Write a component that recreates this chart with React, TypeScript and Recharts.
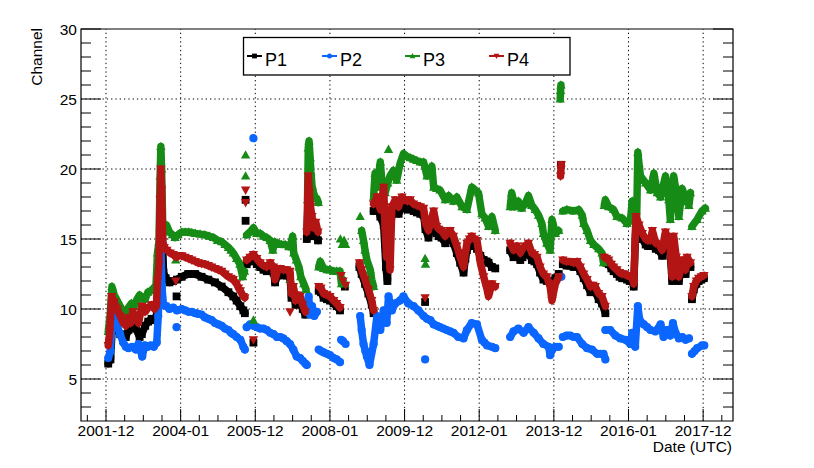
import { ScatterChart, Scatter, XAxis, YAxis, ReferenceLine, ReferenceArea } from 'recharts'

type Pt = [number, number]
type MarkerKind = 'square' | 'circle' | 'up' | 'down'

const CHART_W = 814
const CHART_H = 468
// the axes take 1px each, so the plot spans x 81..733 and y 29..421
const MARGIN = { top: 29, right: 81, bottom: 46, left: 80 }
const PLOT_W = 652
const FONT = '"Liberation Sans", Arial, Helvetica, sans-serif'

const X_DOMAIN: [number, number] = [2001.33, 2018.8]
const Y_DOMAIN: [number, number] = [2, 30]

const X_MAJOR = [2002, 2004, 2006, 2008, 2010, 2012, 2014, 2016, 2018]
const X_LABELS = ['2001-12', '2004-01', '2005-12', '2008-01', '2009-12', '2012-01', '2013-12', '2016-01', '2017-12']
const X_TICKS = [
  2001.5, 2002, 2002.5, 2003, 2003.5, 2004, 2004.5, 2005, 2005.5, 2006, 2006.5, 2007, 2007.5, 2008, 2008.5,
  2009, 2009.5, 2010, 2010.5, 2011, 2011.5, 2012, 2012.5, 2013, 2013.5, 2014, 2014.5, 2015, 2015.5, 2016,
  2016.5, 2017, 2017.5, 2018, 2018.5,
]
const Y_MAJOR = [5, 10, 15, 20, 25, 30]
const Y_TICKS = [3, 4, 5, 6, 7, 8, 9, 10, 11, 12, 13, 14, 15, 16, 17, 18, 19, 20, 21, 22, 23, 24, 25, 26, 27, 28, 29, 30]

// P1 — [year, channel]
const P1_SEGMENTS: Pt[][] = [
  [
    [2002.06, 6.1], [2002.12, 6.4], [2002.18, 9.2], [2002.24, 9.0], [2002.3, 8.6], [2002.38, 8.2], [2002.46, 7.8],
    [2002.53, 8.0], [2002.6, 8.5], [2002.7, 8.7], [2002.8, 8.6], [2002.9, 8.0], [2002.96, 8.2], [2003.05, 8.8],
    [2003.13, 9.1], [2003.22, 9.3], [2003.3, 9.2], [2003.36, 9.6], [2003.4, 11.5], [2003.44, 14.5], [2003.47, 17.3],
    [2003.5, 16.2], [2003.54, 12.6], [2003.6, 12.2], [2003.7, 11.9], [2003.8, 12.0], [2003.9, 12.1], [2004.03, 12.3],
    [2004.2, 12.5], [2004.39, 12.5], [2004.56, 12.3], [2004.74, 12.1], [2004.92, 11.9], [2005.1, 11.6], [2005.28, 11.2],
    [2005.41, 10.9], [2005.5, 10.6], [2005.6, 10.2], [2005.68, 9.9], [2005.72, 9.7],
  ],
  [
    [2005.77, 13.2], [2005.86, 13.4], [2005.95, 13.5], [2006.04, 13.2], [2006.13, 13.0], [2006.22, 12.8], [2006.31, 12.7],
    [2006.4, 12.9], [2006.49, 12.6], [2006.53, 11.9], [2006.6, 12.4], [2006.67, 12.5], [2006.76, 12.4], [2006.84, 12.4],
    [2006.93, 12.3], [2006.97, 10.8], [2007.02, 11.2], [2007.08, 10.3], [2007.14, 10.6], [2007.2, 10.5], [2007.27, 10.0],
    [2007.34, 9.6],
  ],
  [[2007.38, 15.0], [2007.43, 18.8], [2007.46, 17.0], [2007.5, 15.6], [2007.56, 15.2], [2007.62, 15.3], [2007.68, 14.9]],
  [[2007.7, 11.3], [2007.76, 11.2], [2007.83, 10.8], [2007.92, 10.7], [2008.0, 10.6], [2008.1, 10.4], [2008.18, 10.2], [2008.27, 9.9]],
  [[2008.79, 13.0], [2008.85, 12.5], [2008.94, 11.8], [2009.03, 11.1], [2009.12, 10.3], [2009.17, 9.7]],
  [
    [2009.17, 17.0], [2009.26, 17.5], [2009.35, 16.6], [2009.44, 16.0], [2009.5, 13.0], [2009.54, 12.0], [2009.58, 14.5],
    [2009.66, 16.8], [2009.75, 17.3], [2009.84, 16.8], [2009.93, 17.3], [2010.0, 17.2], [2010.08, 17.1], [2010.15, 17.2],
    [2010.24, 17.0], [2010.33, 16.9], [2010.42, 16.8], [2010.51, 16.7], [2010.56, 15.7], [2010.64, 15.1], [2010.7, 15.8],
    [2010.78, 16.5], [2010.86, 15.4], [2010.92, 15.2], [2010.99, 15.1], [2011.09, 14.7], [2011.15, 15.0], [2011.22, 15.1],
    [2011.31, 14.7], [2011.4, 14.0], [2011.49, 13.3], [2011.58, 12.6], [2011.63, 13.6], [2011.67, 14.2], [2011.74, 14.5],
    [2011.8, 14.7], [2011.87, 14.5], [2011.94, 14.3], [2012.03, 13.8], [2012.12, 13.5], [2012.2, 13.4], [2012.25, 13.3],
    [2012.34, 13.0], [2012.43, 12.9],
  ],
  [
    [2012.83, 14.2], [2012.92, 13.7], [2013.01, 13.9], [2013.1, 13.5], [2013.16, 13.7], [2013.23, 13.9], [2013.32, 14.0],
    [2013.41, 13.5], [2013.48, 13.4], [2013.55, 13.2], [2013.63, 12.6], [2013.72, 12.1], [2013.81, 12.0], [2013.9, 11.9],
    [2013.97, 12.0], [2014.04, 12.2], [2014.13, 12.5],
  ],
  [
    [2014.24, 13.2], [2014.34, 13.1], [2014.44, 13.1], [2014.53, 13.0], [2014.62, 13.1], [2014.71, 12.7], [2014.8, 12.2],
    [2014.89, 11.7], [2014.98, 11.2], [2015.05, 11.3], [2015.11, 11.2], [2015.2, 10.7], [2015.29, 10.4], [2015.38, 9.7],
  ],
  [
    [2015.35, 13.4], [2015.41, 13.3], [2015.47, 13.2], [2015.54, 12.9], [2015.6, 12.7], [2015.69, 12.5], [2015.76, 12.3],
    [2015.83, 12.2], [2015.9, 12.2], [2015.96, 12.1], [2016.03, 12.0], [2016.1, 12.0], [2016.14, 11.6], [2016.2, 16.3],
    [2016.28, 15.6], [2016.37, 15.0], [2016.46, 14.6], [2016.52, 14.5], [2016.59, 14.5], [2016.64, 15.2], [2016.73, 14.3],
    [2016.82, 14.2], [2016.9, 13.8], [2016.99, 15.1], [2017.08, 14.5], [2017.12, 13.8], [2017.17, 12.0], [2017.21, 14.8],
    [2017.28, 13.3], [2017.35, 12.0], [2017.44, 13.2], [2017.53, 12.5], [2017.57, 13.4], [2017.66, 13.0],
  ],
  [[2017.7, 10.7], [2017.75, 11.4], [2017.82, 11.8], [2017.88, 12.0], [2017.95, 12.1], [2018.02, 12.2]],
]
const P1_SINGLES: Pt[] = [
  [2003.89, 10.9], [2005.74, 17.8], [2005.74, 16.3], [2005.95, 7.6], [2008.32, 12.0], [2008.4, 11.6], [2010.55, 10.5],
  [2014.19, 20.3],
]

// P2
const P2_SEGMENTS: Pt[][] = [
  [
    [2002.06, 6.5], [2002.12, 7.0], [2002.17, 9.6], [2002.24, 9.2], [2002.3, 8.8], [2002.38, 8.2], [2002.46, 7.6],
    [2002.53, 7.3], [2002.6, 7.2], [2002.7, 7.3], [2002.8, 7.1], [2002.87, 7.5], [2002.97, 6.6], [2003.04, 7.4],
    [2003.12, 7.3], [2003.2, 7.4], [2003.28, 7.3], [2003.36, 7.6], [2003.4, 9.5], [2003.44, 12.0], [2003.47, 14.5],
    [2003.5, 11.5], [2003.54, 10.3], [2003.62, 10.2], [2003.7, 10.0], [2003.8, 10.1], [2003.9, 9.9], [2004.03, 10.0],
    [2004.12, 9.9], [2004.21, 9.8], [2004.3, 9.8], [2004.39, 9.7], [2004.47, 9.65], [2004.56, 9.6], [2004.65, 9.4],
    [2004.74, 9.3], [2004.83, 9.2], [2004.92, 9.0], [2005.01, 8.9], [2005.1, 8.8], [2005.19, 8.6], [2005.28, 8.5],
    [2005.35, 8.3], [2005.41, 8.2], [2005.5, 8.0], [2005.6, 7.8], [2005.68, 7.3], [2005.72, 7.1],
  ],
  [
    [2005.77, 8.7], [2005.86, 8.9], [2005.95, 8.8], [2006.04, 8.7], [2006.13, 8.6], [2006.22, 8.6], [2006.31, 8.5],
    [2006.4, 8.3], [2006.49, 8.2], [2006.58, 8.0], [2006.67, 8.0], [2006.75, 7.9], [2006.84, 7.7], [2006.93, 7.5],
    [2007.02, 7.1], [2007.11, 6.6], [2007.2, 6.5], [2007.27, 6.3], [2007.34, 6.1], [2007.38, 6.0],
  ],
  [[2007.38, 10.3], [2007.43, 10.9], [2007.47, 9.6], [2007.52, 10.2], [2007.58, 9.5], [2007.65, 9.8]],
  [[2007.7, 7.1], [2007.76, 7.0], [2007.83, 6.9], [2007.92, 6.8], [2008.0, 6.7], [2008.1, 6.5], [2008.18, 6.4], [2008.27, 6.2]],
  [
    [2008.81, 9.5], [2008.85, 8.5], [2008.9, 7.5], [2008.95, 7.0], [2008.99, 6.6], [2009.06, 6.0], [2009.17, 7.5],
    [2009.26, 9.5], [2009.35, 8.5], [2009.44, 9.9], [2009.52, 9.0], [2009.57, 10.9], [2009.66, 9.9], [2009.75, 10.4],
    [2009.88, 10.6], [2009.97, 10.9], [2010.1, 10.4], [2010.24, 10.2], [2010.37, 9.9], [2010.51, 9.5], [2010.6, 9.3],
    [2010.69, 9.2], [2010.78, 8.9], [2010.87, 8.8], [2010.95, 8.7], [2011.04, 8.6], [2011.13, 8.5], [2011.22, 8.4],
    [2011.31, 8.3], [2011.44, 8.0], [2011.58, 7.9], [2011.67, 8.5], [2011.8, 9.0], [2011.94, 8.9], [2012.07, 7.8],
    [2012.14, 7.6], [2012.21, 7.4], [2012.34, 7.3], [2012.43, 7.2],
  ],
  [
    [2012.83, 8.0], [2012.92, 8.4], [2013.05, 8.6], [2013.19, 8.3], [2013.32, 8.7], [2013.46, 8.3], [2013.59, 7.9],
    [2013.72, 7.5], [2013.86, 7.3], [2013.9, 6.7], [2013.96, 7.1], [2014.04, 7.3], [2014.13, 7.3],
  ],
  [
    [2014.24, 8.0], [2014.34, 8.1], [2014.44, 8.1], [2014.53, 8.0], [2014.62, 8.0], [2014.76, 7.5], [2014.89, 7.2],
    [2015.02, 7.1], [2015.16, 6.8], [2015.25, 6.8], [2015.33, 6.8], [2015.38, 6.4],
  ],
  [
    [2015.38, 8.5], [2015.51, 8.5], [2015.65, 8.1], [2015.78, 7.9], [2015.92, 7.8], [2016.05, 7.5], [2016.1, 8.3],
    [2016.18, 7.3], [2016.25, 10.2], [2016.3, 9.2], [2016.41, 8.9], [2016.5, 8.7], [2016.59, 8.5], [2016.72, 8.4],
    [2016.86, 8.9], [2016.94, 8.0], [2017.03, 8.5], [2017.12, 8.1], [2017.19, 9.0], [2017.26, 8.3], [2017.35, 7.9],
    [2017.44, 8.0], [2017.53, 7.8], [2017.62, 7.9],
  ],
  [[2017.7, 6.8], [2017.77, 7.0], [2017.84, 7.2], [2017.97, 7.4], [2018.03, 7.4]],
]
const P2_SINGLES: Pt[] = [
  [2003.89, 8.7], [2005.95, 22.2], [2008.3, 7.8], [2008.35, 7.7], [2008.42, 7.5], [2010.55, 6.4], [2014.2, 12.3],
]

// P3
const P3_SEGMENTS: Pt[][] = [
  [
    [2002.06, 8.4], [2002.11, 9.5], [2002.16, 11.6], [2002.22, 11.0], [2002.3, 10.6], [2002.38, 10.2], [2002.46, 9.8],
    [2002.53, 9.7], [2002.6, 10.1], [2002.68, 10.4], [2002.75, 10.2], [2002.83, 10.7], [2002.9, 11.0], [2002.98, 10.8],
    [2003.05, 10.7], [2003.12, 11.2], [2003.2, 11.3], [2003.28, 11.5], [2003.34, 11.7], [2003.38, 14.0], [2003.42, 14.8],
    [2003.45, 19.5], [2003.47, 21.6], [2003.49, 20.0], [2003.52, 16.0], [2003.56, 15.6], [2003.62, 16.0], [2003.7, 15.5],
    [2003.78, 15.3], [2003.85, 15.1], [2003.93, 15.3], [2004.03, 15.5], [2004.12, 15.5], [2004.21, 15.5], [2004.3, 15.45],
    [2004.39, 15.4], [2004.52, 15.35], [2004.65, 15.3], [2004.77, 15.2], [2004.88, 15.1], [2004.99, 14.9], [2005.1, 14.8],
    [2005.19, 14.6], [2005.28, 14.4], [2005.35, 14.2], [2005.41, 14.0], [2005.5, 13.6], [2005.59, 13.2], [2005.66, 12.3],
    [2005.71, 12.7],
  ],
  [
    [2005.77, 15.3], [2005.86, 15.5], [2005.95, 15.8], [2006.04, 15.4], [2006.13, 15.4], [2006.22, 15.2], [2006.31, 15.1],
    [2006.4, 14.9], [2006.47, 14.2], [2006.52, 14.8], [2006.6, 14.7], [2006.7, 14.6], [2006.8, 14.6], [2006.9, 14.45],
    [2006.97, 14.8], [2007.0, 15.2], [2007.03, 14.0], [2007.1, 13.5], [2007.17, 13.0], [2007.22, 12.3], [2007.3, 11.8],
    [2007.36, 11.4],
  ],
  [
    [2007.4, 17.8], [2007.42, 21.5], [2007.44, 22.0], [2007.47, 20.8], [2007.49, 19.8], [2007.52, 18.8], [2007.56, 18.3],
    [2007.6, 18.0], [2007.65, 17.9], [2007.69, 17.6],
  ],
  [[2007.7, 13.0], [2007.74, 13.4], [2007.83, 12.9], [2007.92, 12.8], [2008.0, 12.8], [2008.1, 12.7], [2008.18, 12.7], [2008.27, 12.7], [2008.31, 11.8]],
  [[2008.85, 15.6], [2008.9, 14.9], [2008.94, 14.2], [2008.99, 13.5], [2009.08, 12.8], [2009.12, 12.1], [2009.17, 11.6]],
  [
    [2009.17, 18.0], [2009.21, 19.7], [2009.26, 18.7], [2009.35, 20.5], [2009.39, 19.2], [2009.48, 18.3], [2009.55, 19.0],
    [2009.61, 19.5], [2009.7, 19.9], [2009.79, 19.2], [2009.88, 20.4], [2009.97, 21.1], [2010.06, 20.9], [2010.15, 20.8],
    [2010.24, 20.7], [2010.33, 20.6], [2010.42, 20.5], [2010.51, 20.5], [2010.6, 19.5], [2010.73, 20.2], [2010.78, 18.7],
    [2010.86, 18.6], [2010.95, 18.5], [2011.09, 17.8], [2011.18, 18.1], [2011.31, 17.7], [2011.4, 18.0], [2011.54, 17.3],
    [2011.67, 17.1], [2011.8, 18.7], [2011.89, 18.5], [2011.98, 18.3], [2012.07, 16.8], [2012.16, 16.5], [2012.25, 15.9],
    [2012.34, 16.6], [2012.43, 15.6],
  ],
  [
    [2012.83, 17.3], [2012.87, 18.3], [2012.96, 17.3], [2013.05, 17.7], [2013.14, 17.2], [2013.23, 17.5], [2013.32, 18.1],
    [2013.41, 17.4], [2013.5, 17.1], [2013.59, 16.7], [2013.68, 16.1], [2013.72, 15.4], [2013.81, 14.7], [2013.9, 14.2],
    [2013.95, 16.4], [2014.04, 15.4], [2014.13, 15.6],
  ],
  [[2014.17, 25.0], [2014.18, 25.6], [2014.19, 26.0]],
  [
    [2014.24, 17.0], [2014.35, 17.1], [2014.53, 17.0], [2014.67, 17.1], [2014.76, 16.7], [2014.8, 16.1], [2014.89, 15.6],
    [2014.98, 14.9], [2015.07, 14.6], [2015.2, 14.3], [2015.29, 14.0], [2015.33, 13.3], [2015.38, 13.7],
  ],
  [
    [2015.35, 17.4], [2015.38, 17.8], [2015.47, 17.3], [2015.6, 17.1], [2015.69, 16.6], [2015.83, 16.5], [2015.96, 16.1],
    [2016.05, 16.3], [2016.1, 17.7], [2016.18, 17.1], [2016.22, 16.6], [2016.25, 21.2], [2016.28, 20.4], [2016.32, 19.5],
    [2016.46, 19.0], [2016.59, 18.5], [2016.68, 19.7], [2016.77, 18.3], [2016.86, 18.0], [2016.99, 19.5], [2017.08, 17.8],
    [2017.12, 16.4], [2017.21, 19.5], [2017.3, 18.0], [2017.35, 16.6], [2017.44, 18.6], [2017.53, 17.8], [2017.62, 17.4],
    [2017.66, 18.3],
  ],
  [[2017.7, 15.9], [2017.84, 16.4], [2017.97, 17.0], [2018.06, 17.2]],
]
const P3_SINGLES: Pt[] = [
  [2003.87, 13.5], [2005.74, 21.0], [2005.74, 19.5], [2005.95, 9.2], [2006.93, 12.1], [2008.28, 15.0], [2008.33, 14.6],
  [2008.38, 14.9], [2008.42, 14.6], [2008.35, 12.2], [2008.4, 11.8], [2008.81, 16.6], [2009.57, 21.4], [2010.55, 13.6],
  [2010.56, 13.2],
]

// P4
const P4_SEGMENTS: Pt[][] = [
  [
    [2002.06, 7.4], [2002.1, 8.4], [2002.15, 10.9], [2002.22, 10.5], [2002.3, 10.0], [2002.38, 9.5], [2002.46, 9.0],
    [2002.53, 8.8], [2002.6, 9.4], [2002.66, 9.0], [2002.72, 9.8], [2002.8, 9.3], [2002.87, 9.0], [2002.96, 10.2],
    [2003.05, 9.8], [2003.13, 10.1], [2003.22, 10.3], [2003.3, 10.0], [2003.35, 10.2], [2003.38, 12.0], [2003.42, 13.2],
    [2003.45, 17.8], [2003.47, 20.0], [2003.49, 18.5], [2003.52, 14.8], [2003.56, 14.4], [2003.63, 14.2], [2003.72, 14.0],
    [2003.8, 13.9], [2003.88, 13.7], [2003.95, 13.8], [2004.03, 13.8], [2004.12, 13.7], [2004.21, 13.6], [2004.3, 13.5],
    [2004.39, 13.4], [2004.47, 13.3], [2004.56, 13.25], [2004.65, 13.2], [2004.74, 13.1], [2004.83, 13.0], [2004.92, 12.9],
    [2005.01, 12.8], [2005.1, 12.7], [2005.19, 12.5], [2005.28, 12.3], [2005.35, 12.2], [2005.41, 12.1], [2005.5, 11.8],
    [2005.55, 11.5], [2005.6, 11.3], [2005.68, 10.9], [2005.72, 10.8],
  ],
  [
    [2005.77, 13.5], [2005.86, 13.7], [2005.95, 13.9], [2006.04, 13.6], [2006.13, 13.3], [2006.22, 13.1], [2006.31, 13.0],
    [2006.4, 13.3], [2006.49, 13.0], [2006.53, 12.1], [2006.6, 12.8], [2006.67, 12.9], [2006.76, 12.8], [2006.84, 12.8],
    [2006.93, 12.7], [2006.97, 11.1], [2007.02, 11.6], [2007.08, 10.6], [2007.14, 11.0], [2007.2, 10.9], [2007.27, 10.3],
    [2007.34, 9.8],
  ],
  [[2007.38, 15.5], [2007.42, 19.5], [2007.45, 18.3], [2007.48, 17.3], [2007.52, 16.6], [2007.56, 15.8], [2007.62, 16.2], [2007.68, 15.5]],
  [[2007.7, 11.6], [2007.76, 11.5], [2007.83, 11.1], [2007.92, 11.0], [2008.0, 10.9], [2008.1, 10.6], [2008.18, 10.4], [2008.27, 10.1]],
  [[2008.79, 13.3], [2008.85, 12.8], [2008.94, 12.1], [2009.03, 11.4], [2009.12, 10.6], [2009.17, 9.9]],
  [
    [2009.17, 17.5], [2009.26, 18.0], [2009.35, 17.1], [2009.44, 18.7], [2009.48, 15.6], [2009.52, 13.7], [2009.57, 14.9],
    [2009.61, 12.8], [2009.66, 17.3], [2009.75, 17.8], [2009.84, 17.3], [2009.93, 18.0], [2010.0, 17.8], [2010.08, 17.7],
    [2010.15, 17.8], [2010.24, 17.5], [2010.33, 17.4], [2010.42, 17.3], [2010.51, 17.2], [2010.56, 16.1], [2010.64, 15.6],
    [2010.7, 16.3], [2010.78, 17.0], [2010.86, 15.9], [2010.92, 15.7], [2010.99, 15.6], [2011.09, 15.2], [2011.15, 15.5],
    [2011.22, 15.6], [2011.31, 15.2], [2011.4, 14.5], [2011.49, 13.7], [2011.58, 13.0], [2011.63, 14.0], [2011.67, 14.7],
    [2011.74, 15.0], [2011.8, 15.2], [2011.87, 15.0], [2011.94, 14.9], [2012.03, 13.3], [2012.12, 12.3], [2012.21, 11.4],
    [2012.25, 10.9], [2012.34, 11.8], [2012.43, 11.6],
  ],
  [
    [2012.83, 14.7], [2012.92, 14.2], [2013.01, 14.5], [2013.1, 14.0], [2013.16, 14.3], [2013.23, 14.5], [2013.32, 14.7],
    [2013.41, 14.0], [2013.48, 13.9], [2013.55, 13.7], [2013.63, 13.0], [2013.72, 12.5], [2013.81, 12.3], [2013.9, 11.6],
    [2013.95, 10.6], [2014.0, 11.3], [2014.04, 11.8], [2014.13, 12.3],
  ],
  [[2014.18, 19.5], [2014.19, 20.0], [2014.2, 20.3]],
  [
    [2014.24, 13.5], [2014.34, 13.4], [2014.44, 13.4], [2014.53, 13.3], [2014.62, 13.4], [2014.71, 13.0], [2014.8, 12.5],
    [2014.89, 12.1], [2014.98, 11.6], [2015.05, 11.7], [2015.11, 11.6], [2015.2, 11.1], [2015.29, 10.9], [2015.38, 10.2],
  ],
  [
    [2015.35, 13.7], [2015.41, 13.6], [2015.47, 13.5], [2015.54, 13.2], [2015.6, 13.0], [2015.69, 12.8], [2015.76, 12.6],
    [2015.83, 12.5], [2015.9, 12.5], [2015.96, 12.4], [2016.03, 12.3], [2016.1, 12.3], [2016.14, 11.8], [2016.2, 16.6],
    [2016.28, 16.0], [2016.37, 15.4], [2016.46, 15.0], [2016.52, 14.9], [2016.59, 14.9], [2016.64, 15.6], [2016.73, 14.7],
    [2016.82, 14.6], [2016.9, 14.2], [2016.99, 15.5], [2017.08, 14.9], [2017.12, 14.2], [2017.17, 12.3], [2017.21, 15.2],
    [2017.28, 13.7], [2017.35, 12.3], [2017.44, 13.5], [2017.53, 12.8], [2017.57, 13.7], [2017.66, 13.3],
  ],
  [[2017.7, 10.9], [2017.75, 11.6], [2017.82, 12.0], [2017.88, 12.2], [2017.95, 12.3], [2018.02, 12.4]],
]
const P4_SINGLES: Pt[] = [
  [2003.87, 12.0], [2005.74, 18.5], [2005.74, 17.6], [2005.95, 7.8], [2006.93, 9.8], [2008.3, 12.4], [2008.35, 12.0],
  [2008.42, 11.7], [2010.55, 10.8],
]

interface SeriesDef {
  name: string
  color: string
  marker: MarkerKind
  segments: Pt[][]
  singles: Pt[]
}

const SERIES: SeriesDef[] = [
  { name: 'P1', color: '#000000', marker: 'square', segments: P1_SEGMENTS, singles: P1_SINGLES },
  { name: 'P2', color: '#0a66ff', marker: 'circle', segments: P2_SEGMENTS, singles: P2_SINGLES },
  { name: 'P3', color: '#168c16', marker: 'up', segments: P3_SEGMENTS, singles: P3_SINGLES },
  { name: 'P4', color: '#b31515', marker: 'down', segments: P4_SEGMENTS, singles: P4_SINGLES },
]

// left edge of each legend sample, in px
const LEGEND_X = [247, 322, 405, 489]

function drawMarker(kind: MarkerKind, color: string, cx: number, cy: number, s: number) {
  switch (kind) {
    case 'square':
      return <rect x={cx - s} y={cy - s} width={2 * s} height={2 * s} fill={color} />
    case 'circle':
      return <circle cx={cx} cy={cy} r={s * 1.05} fill={color} />
    case 'up':
      return <polygon points={`${cx},${cy - s * 1.25} ${cx - s * 1.2},${cy + s * 0.9} ${cx + s * 1.2},${cy + s * 0.9}`} fill={color} />
    default:
      return <polygon points={`${cx},${cy + s * 1.25} ${cx - s * 1.2},${cy - s * 0.9} ${cx + s * 1.2},${cy - s * 0.9}`} fill={color} />
  }
}

const makeShape = (kind: MarkerKind, color: string) => (props: any) => {
  const { cx, cy } = props
  if (cx == null || cy == null) return <g />
  return drawMarker(kind, color, cx, cy, 3.9)
}

const majorIndex = (v: number, majors: number[]) => majors.findIndex((m) => Math.abs(m - v) < 1e-6)

function XTick(props: any) {
  const { x, y, payload } = props
  const i = majorIndex(payload.value, X_MAJOR)
  return (
    <g>
      <line x1={x} x2={x} y1={y} y2={y - (i >= 0 ? 12 : 6)} stroke='#000' strokeWidth={1} />
      {i >= 0 && (
        <text x={x} y={y + 15} textAnchor='middle' fontSize={15.5} fontFamily={FONT} fill='#000'>
          {X_LABELS[i]}
        </text>
      )}
    </g>
  )
}

function YTick(props: any) {
  const { x, y, payload } = props
  const major = majorIndex(payload.value, Y_MAJOR) >= 0
  const len = major ? 20 : 10
  return (
    <g>
      <line x1={x} x2={x + len} y1={y} y2={y} stroke='#000' strokeWidth={1} />
      <line x1={x + PLOT_W} x2={x + PLOT_W - len} y1={y} y2={y} stroke='#000' strokeWidth={1} />
      {major && (
        <text x={x - 4} y={y} dy='0.36em' textAnchor='end' fontSize={15.5} fontFamily={FONT} fill='#000'>
          {payload.value}
        </text>
      )}
    </g>
  )
}

const toXY = (pts: Pt[]) => pts.map(([x, y]) => ({ x, y }))

export default function App() {
  return (
    <div style={{ position: 'absolute', left: 0, top: 0, width: CHART_W, height: CHART_H, background: '#fff' }}>
      <ScatterChart width={CHART_W} height={CHART_H} margin={MARGIN}>
        <XAxis
          type='number'
          dataKey='x'
          domain={X_DOMAIN}
          ticks={X_TICKS}
          interval={0}
          height={1}
          axisLine={false}
          tickLine={false}
          tickSize={0}
          tickMargin={0}
          tick={XTick}
          allowDataOverflow
        />
        <YAxis
          type='number'
          dataKey='y'
          domain={Y_DOMAIN}
          ticks={Y_TICKS}
          interval={0}
          width={1}
          axisLine={false}
          tickLine={false}
          tickSize={0}
          tickMargin={0}
          tick={YTick}
          allowDataOverflow
        />
        {X_MAJOR.map((v) => (
          <ReferenceLine key={`gx${v}`} x={v} stroke='#000' strokeWidth={1} strokeDasharray='1.3 3' />
        ))}
        {Y_MAJOR.filter((v) => v < Y_DOMAIN[1]).map((v) => (
          <ReferenceLine key={`gy${v}`} y={v} stroke='#000' strokeWidth={1} strokeDasharray='1.3 3' />
        ))}
        {SERIES.flatMap((s) => [
          ...s.segments.map((seg, j) => (
            <Scatter
              key={`${s.name}-seg${j}`}
              data={toXY(seg)}
              fill={s.color}
              line={{ stroke: s.color, strokeWidth: 7.5, strokeLinejoin: 'round', strokeLinecap: 'round' }}
              shape={makeShape(s.marker, s.color)}
              isAnimationActive={false}
            />
          )),
          <Scatter
            key={`${s.name}-single`}
            data={toXY(s.singles)}
            fill={s.color}
            shape={makeShape(s.marker, s.color)}
            isAnimationActive={false}
          />,
        ])}
        <ReferenceArea
          x1={X_DOMAIN[0]}
          x2={X_DOMAIN[1]}
          y1={Y_DOMAIN[0]}
          y2={Y_DOMAIN[1]}
          fill='none'
          fillOpacity={0}
          stroke='#000'
          strokeWidth={1.2}
        />
      </ScatterChart>
      <svg
        width={CHART_W}
        height={CHART_H}
        style={{ position: 'absolute', left: 0, top: 0, pointerEvents: 'none' }}
      >
        <text transform='translate(41.5 28) rotate(-90)' textAnchor='end' fontSize={15.5} fontFamily={FONT} fill='#000'>
          Channel
        </text>
        <text x={732} y={451.5} textAnchor='end' fontSize={15.5} fontFamily={FONT} fill='#000'>
          Date (UTC)
        </text>
        <rect x={243.5} y={37.5} width={326.5} height={37.5} fill='#fff' stroke='#000' strokeWidth={1.3} />
        {SERIES.map((s, i) => (
          <g key={s.name}>
            <line x1={LEGEND_X[i]} x2={LEGEND_X[i] + 15} y1={56} y2={56} stroke={s.color} strokeWidth={2} />
            {drawMarker(s.marker, s.color, LEGEND_X[i] + 7.5, 56, 2.4)}
            <text x={LEGEND_X[i] + 18} y={66} fontSize={18} fontFamily={FONT} fill='#000'>
              {s.name}
            </text>
          </g>
        ))}
      </svg>
    </div>
  )
}
